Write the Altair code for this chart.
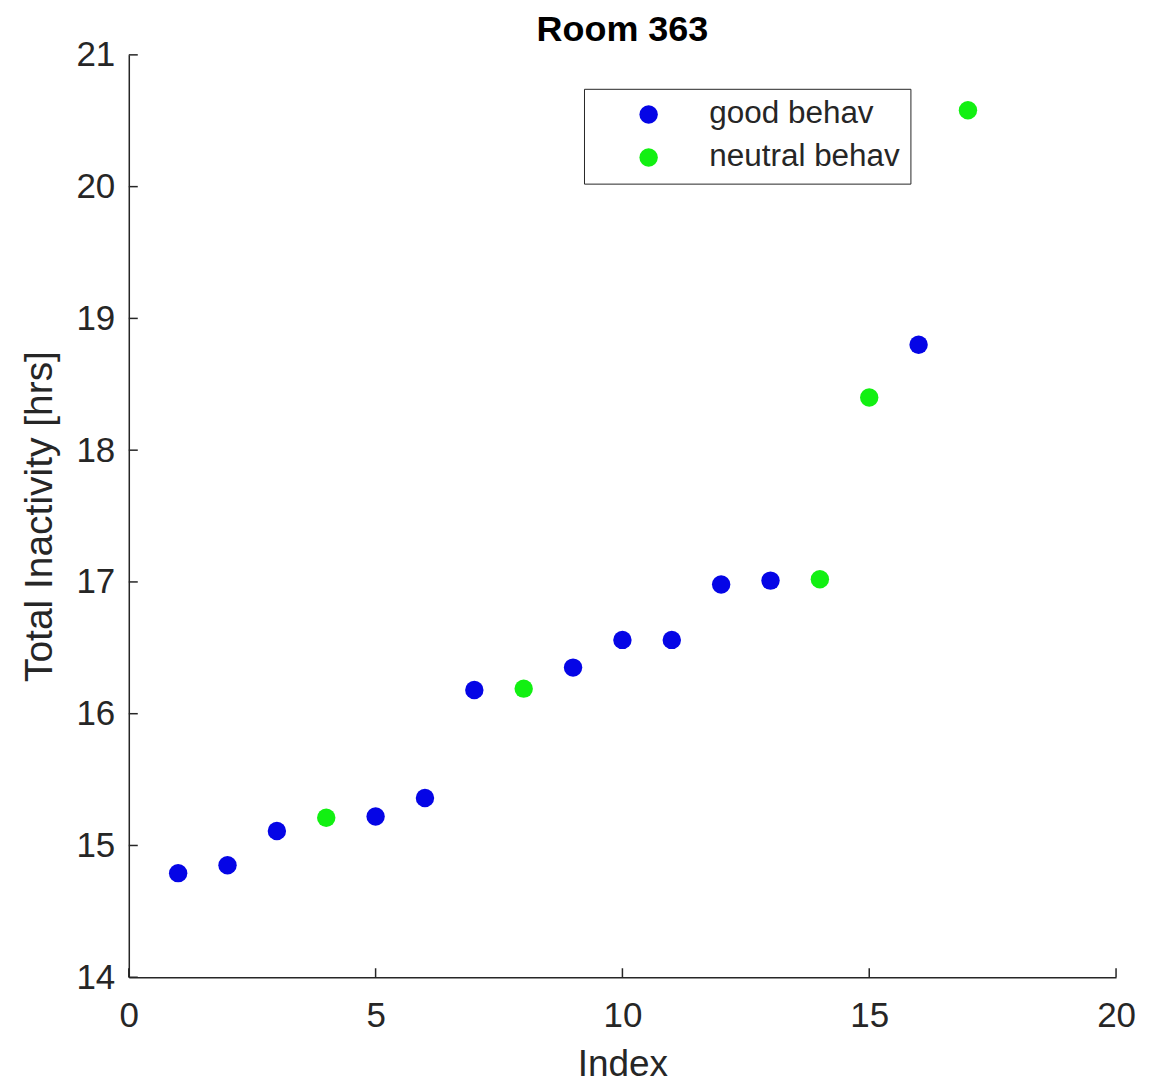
import altair as alt
import pandas as pd

index = list(range(1, 18))
inactivity = [14.79, 14.85, 15.11, 15.21, 15.22, 15.36, 16.18, 16.19, 16.35,
              16.56, 16.56, 16.98, 17.01, 17.02, 18.40, 18.80, 20.58]
behavior = ["good behav", "good behav", "good behav", "neutral behav", "good behav",
            "good behav", "good behav", "neutral behav", "good behav", "good behav",
            "good behav", "good behav", "good behav", "neutral behav", "neutral behav",
            "good behav", "neutral behav"]
x_ticks = [0, 5, 10, 15, 20]
y_ticks = [14, 15, 16, 17, 18, 19, 20, 21]

df = pd.DataFrame({"Index": index, "Inactivity": inactivity, "Behavior": behavior})
xt = pd.DataFrame({"t": x_ticks})
yt = pd.DataFrame({"t": y_ticks})

FONT = "Liberation Sans"
AX = "#262626"
W, H = 989, 924

xscale = alt.Scale(domain=[0, 20], nice=False, zero=False)
yscale = alt.Scale(domain=[14, 21], nice=False, zero=False)

points = alt.Chart(df).mark_circle(size=340, opacity=1).encode(
    x=alt.X("Index:Q", scale=xscale, title="Index",
            axis=alt.Axis(values=x_ticks, format="d", grid=False, tickSize=0, labelFontSize=35,
                          labelPadding=21, titleFontSize=37, titleFontWeight="normal",
                          titlePadding=13, domainColor=AX, domainWidth=1.5,
                          labelColor=AX, titleColor=AX, labelFont=FONT, titleFont=FONT,
                          labelFlush=False)),
    y=alt.Y("Inactivity:Q", scale=yscale, title="Total Inactivity [hrs]",
            axis=alt.Axis(values=y_ticks, format="d", grid=False, tickSize=0, labelFontSize=35,
                          labelPadding=14, titleFontSize=39, titleFontWeight="normal",
                          titlePadding=16, domainColor=AX, domainWidth=1.5,
                          labelColor=AX, titleColor=AX, labelFont=FONT, titleFont=FONT,
                          labelFlush=False)),
    color=alt.Color("Behavior:N",
                    scale=alt.Scale(domain=["good behav", "neutral behav"],
                                    range=["#0505e6", "#12f012"]),
                    legend=alt.Legend(title=None, orient="none", legendX=456, legendY=34,
                                      labelFontSize=31.5, labelFont=FONT, labelColor=AX,
                                      labelLimit=400,
                                      symbolSize=340, symbolType="circle",
                                      symbolStrokeWidth=0, symbolOpacity=1,
                                      symbolOffset=39, labelOffset=45,
                                      padding=10, rowPadding=10,
                                      strokeColor=AX, fillColor="white")),
)

xticks = alt.Chart(xt).mark_rule(color=AX, strokeWidth=1.5).encode(
    x=alt.X("t:Q", scale=xscale),
    y=alt.value(H), y2=alt.value(H - 9))
yticks = alt.Chart(yt).mark_rule(color=AX, strokeWidth=1.5).encode(
    y=alt.Y("t:Q", scale=yscale),
    x=alt.value(0), x2=alt.value(9))

chart = alt.layer(points, xticks, yticks).properties(
    width=W, height=H,
    title=alt.TitleParams("Room 363", font=FONT, fontSize=36, fontWeight="bold",
                          color="black", offset=14, dy=25, anchor="middle", frame="group"),
    padding={"left": 121, "top": 46, "right": 30, "bottom": 106},
    autosize=alt.AutoSizeParams(type="none"),
).configure_view(stroke=None)

chart.save("out.html", embed_options={"renderer": "svg", "actions": False})
